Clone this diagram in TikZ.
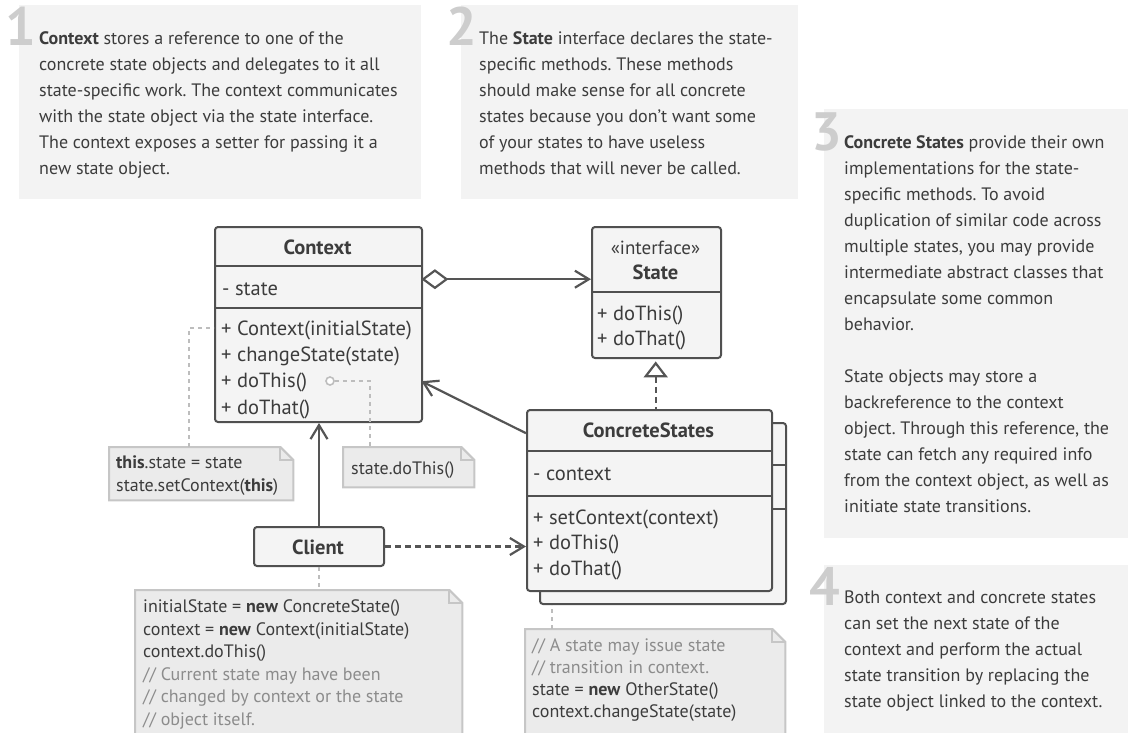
\documentclass[tikz,border=0pt]{standalone}
\usepackage{fontspec}
\setmainfont{PT Sans}
\usetikzlibrary{arrows.meta,calc}
\frenchspacing

\definecolor{panelbg}{HTML}{F3F3F3}
\definecolor{digitc}{HTML}{CDCDCD}
\definecolor{txt}{HTML}{3C3C3C}
\definecolor{boxline}{HTML}{505050}
\definecolor{boxfill}{HTML}{F4F4F4}
\definecolor{notefill}{HTML}{EBEBEB}
\definecolor{noteline}{HTML}{C6C6C6}
\definecolor{commentc}{HTML}{8C8C8C}
\definecolor{linkc}{HTML}{555555}
\definecolor{dotc}{HTML}{BDBDBD}

\newcommand\fs[2]{\fontsize{#1}{#2}\selectfont}
% note outline with a folded top-right corner
\newcommand\dogear[1]{%
  \filldraw[notestyle] (#1.north west) -- ($(#1.north east)+(-13,0)$)
    -- ($(#1.north east)+(0,13)$) -- (#1.south east) -- (#1.south west) -- cycle;
  \draw[notestyle,fill=none] ($(#1.north east)+(-13,0)$) -- ($(#1.north east)+(-13,13)$)
    -- ($(#1.north east)+(0,13)$);}

\begin{document}
\begin{tikzpicture}[x=1pt,y=-1pt,
  panel/.style={anchor=north west,fill=panelbg,draw=none,inner sep=0},
  digit/.style={anchor=base,font=\fs{54}{54}\bfseries,text=digitc,inner sep=0},
  ptext/.style={anchor=north west,inner sep=0,align=left,font=\fs{18}{26},text=txt},
  umlbox/.style={anchor=north west,draw=boxline,fill=boxfill,line width=2,rounded corners=3,inner sep=0},
  comp/.style={anchor=north west,draw=none,inner sep=0},
  sep/.style={draw=boxline,line width=2},
  hdr/.style={anchor=base,inner sep=0,font=\fs{20.5}{26}\bfseries,text=txt},
  mline/.style={anchor=base west,inner sep=0,font=\fs{20.5}{26},text=txt},
  mblock/.style={anchor=north west,inner sep=0,align=left,text=txt},
  notebox/.style={anchor=north west,draw=none,inner sep=0},
  notestyle/.style={draw=noteline,fill=notefill,line width=2},
  ntext/.style={anchor=north west,inner sep=0,align=left,text=txt},
  assoc/.style={draw=linkc,line width=2.2,-{Straight Barb[length=14pt,width=17pt]}},
  aggr/.style={draw=linkc,line width=2.2,{Diamond[open,length=27pt,width=20pt]}-{Straight Barb[length=14pt,width=17pt]}},
  real/.style={draw=linkc,line width=2.2,dash pattern=on 6pt off 4pt,{Triangle[open,length=16pt,width=24pt]}-},
  dep/.style={draw=linkc,line width=2.2,dash pattern=on 6pt off 4pt,-{Straight Barb[length=14pt,width=17pt]}},
  notelink/.style={draw=dotc,line width=1.6,dash pattern=on 4pt off 4pt},
  circ/.style={circle,draw=dotc,line width=1.6,fill=white,minimum size=8,inner sep=0}]

\useasboundingbox (0,0) rectangle (1128,732);
\clip (0,0) rectangle (1128,732);

% ---------- explanation panels ----------
\node[panel,minimum width=402,minimum height=194] (p1) at (19,5) {};
\node[panel,minimum width=337,minimum height=194] (p2) at (461,5) {};
\node[panel,minimum width=310,minimum height=429] (p3) at (824,109) {};
\node[panel,minimum width=310,minimum height=180] (p4) at (824,565) {};

\node[digit] (d1) at (21,45) {1};
\node[digit] (d2) at (461.5,45) {2};
\node[digit] (d3) at (826.5,150) {3};
\node[digit] (d4) at (825,605) {4};

\node[ptext] (t1) at (39,25.8) {\strut\textbf{Context} stores a reference to one of the\\
concrete state objects and delegates to it all\\
state-specific work. The context communicates\\
with the state object via the state interface.\\
The context exposes a setter for passing it a\\
new state object.};

\node[ptext] (t2) at (479,25.8) {\strut The \textbf{State} interface declares the state-\\
specific methods. These methods\\
should make sense for all concrete\\
states because you don’t want some\\
of your states to have useless\\
methods that will never be called.};

\node[ptext] (t3) at (844,129.8) {\strut\textbf{Concrete States} provide their own\\
implementations for the state-\\
specific methods. To avoid\\
duplication of similar code across\\
multiple states, you may provide\\
intermediate abstract classes that\\
encapsulate some common\\
behavior.\\[26pt]
State objects may store a\\
backreference to the context\\
object. Through this reference, the\\
state can fetch any required info\\
from the context object, as well as\\
initiate state transitions.};

\node[ptext] (t4) at (844,584.8) {\strut Both context and concrete states\\
can set the next state of the\\
context and perform the actual\\
state transition by replacing the\\
state object linked to the context.};

% ---------- Context class ----------
\node[umlbox,minimum width=207,minimum height=195] (ctx) at (214,226) {};
\node[comp,minimum width=207,minimum height=40] (ctxH) at (214,226) {};
\node[comp,minimum width=207,minimum height=42] (ctxA) at (214,266) {};
\node[comp,minimum width=207,minimum height=113] (ctxM) at (214,308) {};
\draw[sep] (ctxH.south west) -- (ctxH.south east);
\draw[sep] (ctxA.south west) -- (ctxA.south east);
\node[hdr] (ctxT) at (317.5,254) {Context};
\node[mline] (ctxAt) at (222,295) {- state};
\node[mblock,font=\fs{20.5}{26.3}] (ctxMt) at (221,316.6) {\strut + Context(initialState)\\
+ changeState(state)\\ + doThis()\\ + doThat()};

% ---------- State interface ----------
\node[umlbox,minimum width=129,minimum height=131] (st) at (591,226) {};
\node[comp,minimum width=129,minimum height=66] (stH) at (591,226) {};
\node[comp,minimum width=129,minimum height=65] (stM) at (591,292) {};
\draw[sep] (stH.south west) -- (stH.south east);
\node[hdr,font=\fs{19}{26}] (stS) at (655.5,254) {«interface»};
\node[hdr] (stT) at (655.5,279) {State};
\node[mblock,font=\fs{20.5}{25}] (stMt) at (597,302.5) {\strut + doThis()\\ + doThat()};

% ---------- ConcreteStates (stacked) ----------
\node[umlbox,minimum width=246,minimum height=181] (csB) at (539,422) {};
\draw[sep] (771,465) -- (csB.east |- 0,465);
\draw[sep] (771,509) -- (csB.east |- 0,509);
\node[umlbox,minimum width=245,minimum height=181] (cs) at (526,409) {};
\node[comp,minimum width=245,minimum height=42] (csH) at (526,409) {};
\node[comp,minimum width=245,minimum height=45] (csA) at (526,451) {};
\node[comp,minimum width=245,minimum height=94] (csM) at (526,496) {};
\draw[sep] (csH.south west) -- (csH.south east);
\draw[sep] (csA.south west) -- (csA.south east);
\node[hdr] (csT) at (648.5,437) {ConcreteStates};
\node[mline] (csAt) at (533,480) {- context};
\node[mblock,font=\fs{20.5}{25.5}] (csMt) at (533,506.2) {\strut + setContext(context)\\
+ doThis()\\ + doThat()};

% ---------- Client ----------
\node[umlbox,minimum width=130,minimum height=39] (cl) at (253,526) {};
\node[hdr] (clT) at (318,554) {Client};

% ---------- notes ----------
\node[notebox,minimum width=184,minimum height=53] (nA) at (109,447) {};
\dogear{nA}
\node[ntext,font=\fs{18}{23}] (nAt) at (116,452.4) {\strut\textbf{this}.state = state\\
state.setContext(\textbf{this})};

\node[notebox,minimum width=131,minimum height=40] (nB) at (343,447) {};
\dogear{nB}
\node[anchor=base west,inner sep=0,font=\fs{18}{23},text=txt] (nBt) at (351,474) {state.doThis()};

\node[notebox,minimum width=327,minimum height=160] (nC) at (135,590) {};
\dogear{nC}
\node[ntext,font=\fs{18}{22.5}] (nCt) at (143,596.8) {\strut initialState = \textbf{new} ConcreteState()\\
context = \textbf{new} Context(initialState)\\
context.doThis()\\
\textcolor{commentc}{// Current state may have been}\\
\textcolor{commentc}{// changed by context or the state}\\
\textcolor{commentc}{// object itself.}};

\node[notebox,minimum width=260,minimum height=120] (nD) at (525,629) {};
\dogear{nD}
\node[ntext,font=\fs{18}{22}] (nDt) at (532,636.1) {\strut\textcolor{commentc}{// A state may issue state}\\
\textcolor{commentc}{// transition in context.}\\
state = \textbf{new} OtherState()\\
context.changeState(state)};

% ---------- connectors ----------
\draw[aggr] ($(ctxA.east)+(0,-8)$) coordinate (aggS) -- (aggS -| stH.west);
\draw[real,shorten <=4pt] (stM.south) -- (stM.south |- csH.north);
\draw[assoc] ($(csH.west)+(0,3)$) -- ($(ctxM.east)+(0,16.5)$);
\draw[assoc] (cl.north) -- (cl.north |- ctx.south);
\draw[dep] (cl.east) -- (cl.east -| csM.west);

% note links
\draw[notelink] ($(nA.north west)+(80,0)$) |- ($(ctxM.north west)+(0,20)$);
\node[circ] (dotB) at (330,381) {};
\draw[notelink] (dotB.east) -| ($(nB.north west)+(27,0)$);
\draw[notelink] (cl.south) -- (cl.south |- nC.north);
\coordinate (dA) at ($(nD.north west)+(27,0)$);
\draw[notelink] (dA) -- (dA |- csB.south);

\end{tikzpicture}
\end{document}
